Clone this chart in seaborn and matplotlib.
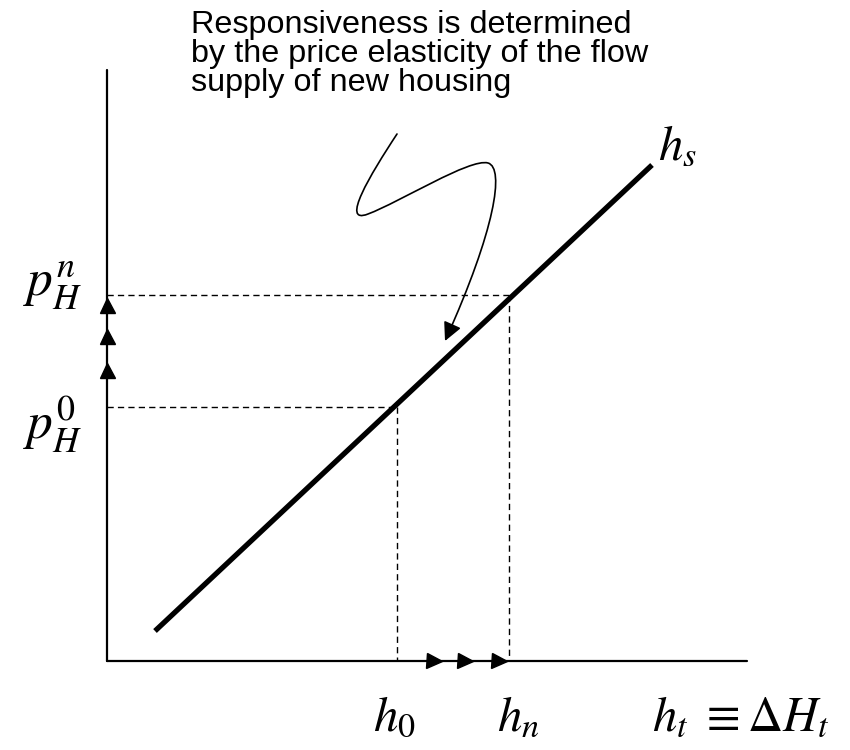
import matplotlib.pyplot as plt
import seaborn as sns
from matplotlib.path import Path
from matplotlib.patches import FancyArrowPatch

# diagram coordinates (pixel-like units, y grows downward)
origin = (107, 661)
y_axis_top = 70
x_axis_end = 747

supply_x = [155, 652]
supply_y = [631, 165]

h_levels = [397, 509]        # h0, hn
p_levels = [407, 295]        # p0, pn

# little arrowheads showing the moves
up_tips = [297, 328, 362]
right_tips = [442, 473, 507]

note = "Responsiveness is determined\nby the price elasticity of the flow\nsupply of new housing"

sns.set_theme(style="white")
plt.rcParams["mathtext.fontset"] = "stix"
plt.rcParams["font.family"] = ["Liberation Sans", "DejaVu Sans"]
plt.rcParams["text.color"] = "black"

fig = plt.figure(figsize=(8.5, 7.5), dpi=100)
ax = fig.add_axes([0, 0, 1, 1])
ax.set_xlim(0, 850)
ax.set_ylim(750, 0)
ax.axis("off")

# axes
ax.plot([origin[0], origin[0]], [y_axis_top, origin[1]], color="black", lw=1.6)
ax.plot([origin[0], x_axis_end], [origin[1], origin[1]], color="black", lw=1.6)

# supply curve
sns.lineplot(x=supply_x, y=supply_y, color="black", lw=3.8, ax=ax,
             solid_capstyle="butt")

# dashed guides
for h, p in zip(h_levels, p_levels):
    ax.plot([origin[0], h], [p, p], color="black", lw=1.0, dashes=(4.5, 3))
    ax.plot([h, h], [p, origin[1]], color="black", lw=1.0, dashes=(4.5, 3))

# arrowheads along axes
mk = 10.8
half = mk * 100 / 72 / 2
ax.plot([origin[0]] * len(up_tips), [t + half for t in up_tips], ls="none",
        marker="^", ms=mk, color="black")
ax.plot([t - half for t in right_tips], [origin[1]] * len(right_tips), ls="none",
        marker=">", ms=mk, color="black")

# labels
fs = 35
ax.text(53, 286, r"$p_H^n$", fontsize=fs + 2, ha="center", va="center")
ax.text(53, 424, r"$p_H^0$", fontsize=fs + 2, ha="center", va="center")
ax.text(394, 718, r"$h_0$", fontsize=fs, ha="center", va="center")
ax.text(518, 718, r"$h_n$", fontsize=fs, ha="center", va="center")
ax.text(741, 718, r"$h_t\ \equiv \Delta H_t$", fontsize=fs, ha="center", va="center")
ax.text(677, 147, r"$h_s$", fontsize=fs, ha="center", va="center")

# annotation text
ax.text(191, 10, note, fontsize=23.3, ha="left", va="top", linespacing=0.95)

# squiggly arrow
verts = [(397, 134),
         (370, 175), (340, 225), (368, 214),
         (400, 202), (470, 158), (488, 163),
         (505, 168), (495, 230), (445, 341)]
codes = [Path.MOVETO] + [Path.CURVE4] * 9
arrow = FancyArrowPatch(path=Path(verts, codes), arrowstyle="-|>",
                        mutation_scale=28, color="black", lw=1.2)
ax.add_patch(arrow)

fig.savefig("out.png", dpi=100)
